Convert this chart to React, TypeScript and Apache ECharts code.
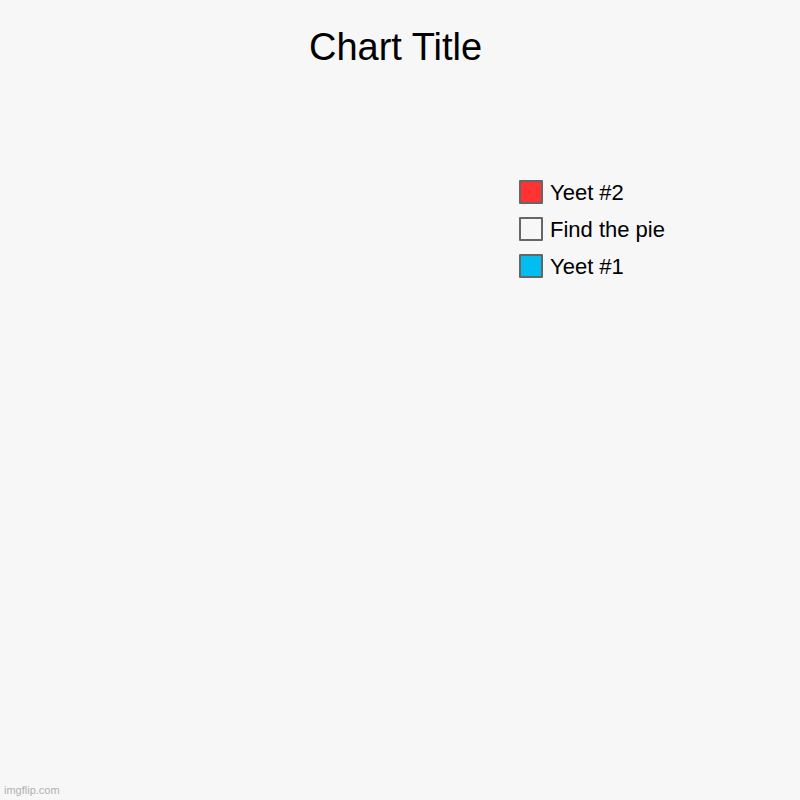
import React, { useEffect, useRef } from 'react';
import * as echarts from 'echarts';

// slices in legend order; every value is zero, so no pie is drawn
const categories = ['Yeet #2', 'Find the pie', 'Yeet #1'];
const values = [0, 0, 0];
const colors = ['#ff3333', '#f7f7f7', '#00bff0'];

const App: React.FC = () => {
  const chartRef = useRef<HTMLDivElement>(null);

  useEffect(() => {
    if (!chartRef.current) return;

    const chart = echarts.init(chartRef.current, undefined, { renderer: 'svg' });

    const option: echarts.EChartsOption = {
      animation: false,
      backgroundColor: '#f7f7f7',
      textStyle: { fontFamily: 'Liberation Sans, Arial, sans-serif' },
      title: {
        text: 'Chart Title',
        left: 304,
        top: 23,
        textStyle: {
          fontSize: 38,
          fontWeight: 'normal',
          color: '#000'
        }
      },
      legend: {
        orient: 'vertical',
        left: 519,
        top: 180,
        padding: 0,
        icon: 'rect',
        itemWidth: 22,
        itemHeight: 22,
        itemGap: 13,
        selectedMode: false,
        itemStyle: {
          borderColor: '#666',
          borderWidth: 2
        },
        textStyle: {
          fontSize: 22,
          lineHeight: 22,
          color: '#000',
          padding: [0, 0, 0, 3]
        },
        data: categories
      },
      graphic: [{
        type: 'text',
        left: 4,
        top: 784,
        style: {
          text: 'imgflip.com',
          fontSize: 11,
          fill: '#b0b0b0',
          fontFamily: 'Liberation Sans, Arial, sans-serif'
        }
      }],
      series: [{
        type: 'pie',
        center: ['33%', '50%'],
        radius: '40%',
        stillShowZeroSum: false,
        label: { show: false },
        labelLine: { show: false },
        data: categories.map((name, i) => ({
          name,
          value: values[i],
          itemStyle: { color: colors[i] }
        }))
      }]
    };

    chart.setOption(option);

    return () => {
      chart.dispose();
    };
  }, []);

  return (
    <div
      ref={chartRef}
      style={{
        position: 'fixed',
        left: 0,
        top: 0,
        width: 800,
        height: 800
      }}
    />
  );
};

export default App;
